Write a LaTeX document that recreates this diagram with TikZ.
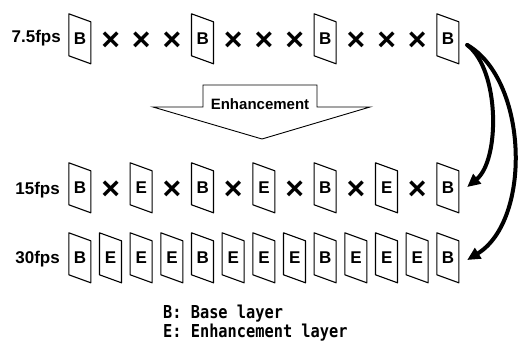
\documentclass[tikz,border=0pt]{standalone}
\usepackage{fontspec}
\setmainfont{Liberation Sans}
\newfontfamily\legendfont[FakeStretch=0.86]{DejaVu Sans Mono}
\usetikzlibrary{arrows.meta}
\begin{document}
\begin{tikzpicture}[x=1pt,y=-1pt,
  frm/.style={minimum width=22pt,minimum height=50pt,inner sep=0pt,font=\fontsize{17}{17}\selectfont\bfseries},
  frameline/.style={line width=1.1pt,line join=round},
  crossmark/.style={inner sep=0pt,font=\fontsize{32}{32}\selectfont\bfseries},
  ratelabel/.style={anchor=base east,inner sep=0pt,font=\fontsize{17}{17}\selectfont\bfseries},
  legendtext/.style={anchor=base west,inner sep=0pt,font=\fontsize{17.8}{17.8}\legendfont\bfseries},
  enhtext/.style={inner sep=0pt,anchor=base,font=\fontsize{15}{15}\selectfont\bfseries},
  bigarrow/.style={line width=4pt,line cap=round,-{Triangle[length=13pt,width=12pt]}},
]
\useasboundingbox (0,0) rectangle (519,342);
% row labels
\node[ratelabel] (l1) at (61,43) {7.5fps};
\node[ratelabel] (l2) at (60,194) {15fps};
\node[ratelabel] (l3) at (60,263) {30fps};
% row 1
\foreach \i in {0,4,8,12}{
  \pgfmathsetmacro\xx{80+30.667*\i}
  \node[frm] (r1f\i) at (\xx,39) {B};
  \draw[frameline] (r1f\i.north west) -- ++(22,8) -- ++(0,42) -- ++(-22,-8) -- cycle;
}
\foreach \i in {1,2,3,5,6,7,9,10,11}{
  \pgfmathsetmacro\xx{80+30.667*\i}
  \node[crossmark] (r1x\i) at (\xx,41.5) {×};
}
% row 2
\foreach \i/\l in {0/B,2/E,4/B,6/E,8/B,10/E,12/B}{
  \pgfmathsetmacro\xx{80+30.667*\i}
  \node[frm] (r2f\i) at (\xx,188) {\l};
  \draw[frameline] (r2f\i.north west) -- ++(22,8) -- ++(0,42) -- ++(-22,-8) -- cycle;
}
\foreach \i in {1,3,5,7,9,11}{
  \pgfmathsetmacro\xx{80+30.667*\i}
  \node[crossmark] (r2x\i) at (\xx,190.5) {×};
}
% row 3
\foreach \i/\l in {0/B,1/E,2/E,3/E,4/B,5/E,6/E,7/E,8/B,9/E,10/E,11/E,12/B}{
  \pgfmathsetmacro\xx{80+30.667*\i}
  \node[frm] (r3f\i) at (\xx,258) {\l};
  \draw[frameline] (r3f\i.north west) -- ++(22,8) -- ++(0,42) -- ++(-22,-8) -- cycle;
}
% enhancement arrow
\draw[line width=0.9pt,line join=miter] (153,107) -- (203,107) -- (203,85) -- (317,85) -- (317,107) -- (370,107) -- (262,139) -- cycle;
\node[enhtext] (enh) at (260,110) {Enhancement};
% curved arrows
\draw[bigarrow] ([shift={(8,6)}]r1f12.east) .. controls (500,70) and (500,160) .. ([shift={(8,-1)}]r2f12.east);
\draw[bigarrow] ([shift={(8,6)}]r1f12.east) .. controls (528,80) and (532,220) .. ([shift={(8,2)}]r3f12.east);
% legend
\node[legendtext] (lgB) at (163,318) {B: Base layer};
\node[legendtext] (lgE) at (163,337) {E: Enhancement layer};
\end{tikzpicture}
\end{document}
